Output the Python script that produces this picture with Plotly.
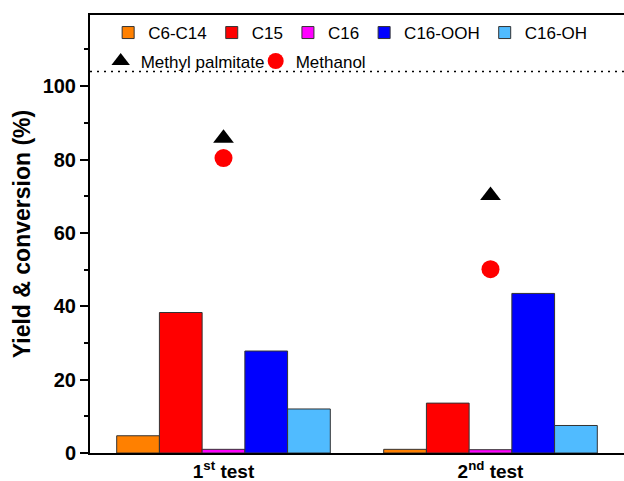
import plotly.graph_objects as go

categories = ["1<sup>st</sup> test", "2<sup>nd</sup> test"]
series_names = ["C6-C14", "C15", "C16", "C16-OOH", "C16-OH"]
c6_c14 = [4.7, 1.0]
c15 = [38.3, 13.6]
c16 = [1.0, 0.9]
c16_ooh = [27.8, 43.5]
c16_oh = [12.0, 7.5]
methyl_palmitate = [85.8, 70.2]
methanol = [80.4, 50.1]
ref_line = 104

colors = ["#FF8000", "#FF0000", "#FF00FF", "#0000FF", "#50BBFF"]
font_fam = "Arial, Liberation Sans, sans-serif"

fig = go.Figure()
for name, vals, col in zip(series_names, [c6_c14, c15, c16, c16_ooh, c16_oh], colors):
    fig.add_trace(go.Bar(
        x=categories, y=vals, name=name,
        marker=dict(color=col, line=dict(color="#333333", width=1)),
        legend="legend",
    ))

fig.add_trace(go.Scatter(
    x=categories, y=methyl_palmitate, name="Methyl palmitate", mode="markers",
    marker=dict(symbol="triangle-up", size=18, color="black"),
    legend="legend2",
))
fig.add_trace(go.Scatter(
    x=categories, y=methanol, name="Methanol", mode="markers",
    marker=dict(symbol="circle", size=18, color="#FF0000"),
    legend="legend2",
))

fig.add_shape(type="line", xref="paper", x0=0, x1=1, yref="y", y0=ref_line, y1=ref_line,
              line=dict(color="black", width=1.5, dash="2px,5px"))

fig.update_layout(
    width=624, height=481,
    margin=dict(l=90, r=0, t=15, b=28),
    plot_bgcolor="white", paper_bgcolor="white",
    barmode="group", bargap=0.2, bargroupgap=0,
    font=dict(family=font_fam, color="black"),
    legend=dict(orientation="h", x=0.034, xanchor="left", y=1.0, yanchor="top",
                bgcolor="rgba(0,0,0,0)", font=dict(size=17, family=font_fam)),
    legend2=dict(orientation="h", x=0.02, xanchor="left", y=0.935, yanchor="top",
                 entrywidth=110, entrywidthmode="pixels",
                 bgcolor="rgba(0,0,0,0)", font=dict(size=17, family=font_fam)),
    xaxis=dict(range=[-0.5, 1.5], showline=True, linecolor="black", linewidth=2,
               mirror=True, ticks="", showgrid=False,
               tickfont=dict(size=19, family=font_fam, weight="bold")),
    yaxis=dict(range=[0, 119.4], showline=True, linecolor="black", linewidth=2,
               ticks="outside", ticklen=8, tickwidth=2, tickcolor="black",
               tickvals=[0, 20, 40, 60, 80, 100], showgrid=False, zeroline=False,
               minor=dict(tickvals=[10, 30, 50, 70, 90, 110], ticks="outside", ticklen=4, tickwidth=1.5, tickcolor="black"),
               tickfont=dict(size=20, family=font_fam, weight="bold"),
               title=dict(text="Yield & conversion (%)", standoff=6,
                          font=dict(size=23, family=font_fam, weight="bold"))),
)

fig.write_html("out.html")
